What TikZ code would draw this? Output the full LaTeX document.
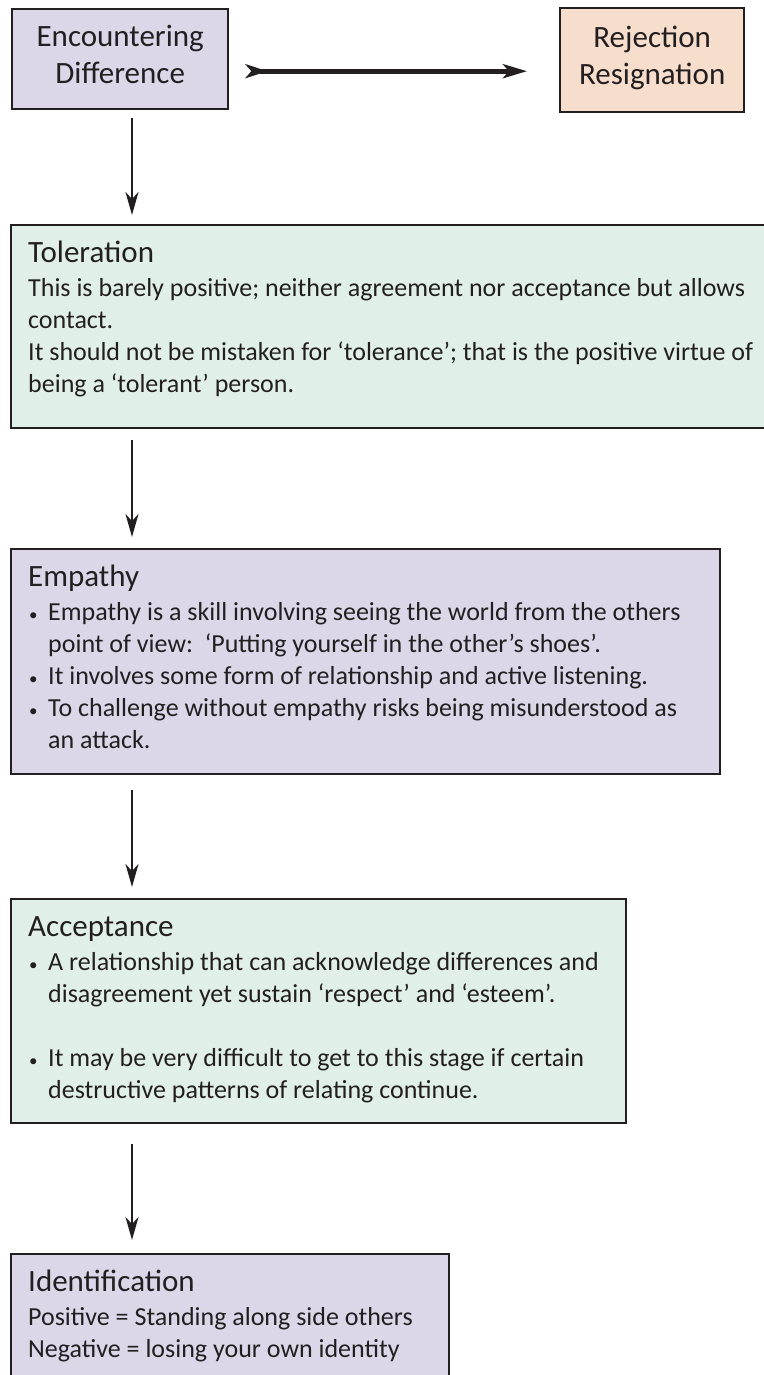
\documentclass[tikz,border=0pt]{standalone}
\usepackage{fontspec}
\setmainfont{Carlito}
\usetikzlibrary{arrows.meta}

\definecolor{lilac}{RGB}{221,213,232}
\definecolor{mint}{RGB}{224,239,232}
\definecolor{peach}{RGB}{246,221,204}
\definecolor{ink}{RGB}{35,31,32}

\newcommand{\headfont}{\fontsize{31}{37}\selectfont}
\newcommand{\bodyfont}{\fontsize{26}{32}\selectfont}
\newcommand{\blt}{\makebox[20pt][l]{\hspace*{1pt}\fontsize{17}{17}\selectfont\textbullet}}
\newcommand{\bltgap}{\hspace*{20pt}}
\newcommand{\lift}{\rule[-9pt]{0pt}{9pt}}
\newcommand{\stagetext}[4]{\parbox[c][#1][t]{#2}{\raggedright\headfont\rule{0pt}{22pt}#3\par\vspace{2pt}\bodyfont #4\par}}

\begin{document}
\begin{tikzpicture}
[
x=1pt, y=-1pt,
>={Stealth[length=23pt, width=13pt, inset=7pt]},
topbox/.style={draw=ink, line width=2.4pt, anchor=north west, inner sep=0pt, align=center, font=\headfont, text=ink},
stage/.style={draw=ink, line width=2.4pt, anchor=north west, inner xsep=17pt, inner ysep=15pt, text=ink},
flow/.style={->, color=ink, line width=2.2pt}
]
\useasboundingbox (0,0) rectangle (763,1375);

\node[topbox, fill=lilac, minimum width=216pt, minimum height=100pt] (encounter) at (11,8) {Encountering\\Difference\lift};
\node[topbox, fill=peach, minimum width=184pt, minimum height=104pt] (rejection) at (559,7) {Rejection\\Resignation\lift};

\node[stage, fill=mint] (toleration) at (10,224) {\stagetext{173pt}{736pt}{Toleration}{%
This is barely positive; neither agreement nor acceptance but allows\\
contact.\\
It should not be mistaken for ‘tolerance’; that is the positive virtue of\\
being a ‘tolerant’ person.}};

\node[stage, fill=lilac] (empathy) at (10,548) {\stagetext{195pt}{675pt}{Empathy}{%
\blt Empathy is a skill involving seeing the world from the others\\
\bltgap point of view:\ \ ‘Putting yourself in the other’s shoes’.\\
\blt It involves some form of relationship and active listening.\\
\blt To challenge without empathy risks being misunderstood as\\
\bltgap an attack.}};

\node[stage, fill=mint] (acceptance) at (10,898) {\stagetext{194pt}{581pt}{Acceptance}{%
\blt A relationship that can acknowledge differences and\\
\bltgap disagreement yet sustain ‘respect’ and ‘esteem’.\\[32pt]
\blt It may be very difficult to get to this stage if certain\\
\bltgap destructive patterns of relating continue.}};

\node[stage, fill=lilac] (identification) at (10,1253) {\stagetext{140pt}{404pt}{Identification}{%
Positive = Standing along side others\\
Negative = losing your own identity}};

\path[color=ink, line width=5pt, {Stealth[reversed, length=22pt, width=14pt, inset=6pt]}-{Stealth[length=24pt, width=14pt, inset=6pt]}]
([xshift=16pt, yshift=-12pt] encounter.east) edge ([xshift=-32pt, yshift=-11pt] rejection.west);

\path[flow]
([xshift=121pt, yshift=-8pt] encounter.south west)	edge	([xshift=122pt, yshift=9pt] toleration.north west)
([xshift=122pt, yshift=-11pt] toleration.south west)	edge	([xshift=122pt, yshift=11pt] empathy.north west)
([xshift=122pt, yshift=-15pt] empathy.south west)	edge	([xshift=122pt, yshift=11pt] acceptance.north west)
([xshift=122pt, yshift=-20pt] acceptance.south west)	edge	([xshift=122pt, yshift=13pt] identification.north west);
\end{tikzpicture}
\end{document}
